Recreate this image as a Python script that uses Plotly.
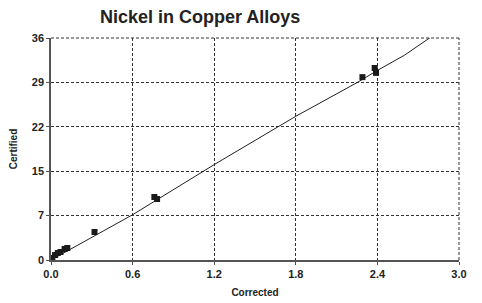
import plotly.graph_objects as go

# Data
corrected = [0.01, 0.03, 0.05, 0.07, 0.10, 0.12, 0.32, 0.76, 0.78, 2.29, 2.38, 2.39]
certified = [0.33, 0.82, 1.14, 1.31, 1.80, 1.96, 4.58, 10.3, 9.97, 29.9, 31.4, 30.6]

fit_x = [0.0, 0.6, 1.2, 1.8, 2.25, 2.4, 2.6, 2.79]
fit_y = [0.0, 7.4, 15.6, 23.5, 29.0, 31.0, 33.5, 36.4]

x_ticks = [0.0, 0.6, 1.2, 1.8, 2.4, 3.0]
y_tickvals = [0.0, 7.26, 14.52, 21.78, 29.04, 36.3]
y_ticktext = ["0", "7", "15", "22", "29", "36"]

font_family = "Liberation Sans, Arial, sans-serif"
grid_dash = "3px,2px"

fig = go.Figure()
fig.add_trace(go.Scatter(
    x=fit_x, y=fit_y, mode="lines",
    line=dict(color="#222222", width=1), hoverinfo="skip", showlegend=False,
))
fig.add_trace(go.Scatter(
    x=corrected, y=certified, mode="markers",
    marker=dict(symbol="square", size=6, color="#1a1a1a"), showlegend=False,
))

fig.update_layout(
    width=474, height=295,
    margin=dict(l=43, r=23, t=30, b=43),
    paper_bgcolor="white", plot_bgcolor="white",
    font=dict(family=font_family, color="#222222"),
    title=dict(text="Nickel in Copper Alloys", x=0.194, xanchor="left",
               y=0.95, yanchor="bottom",
               font=dict(size=18, color="#222222", weight="bold")),
    xaxis=dict(
        range=[0, 3.0], tickvals=x_ticks, tickformat=".1f", automargin=False,
        showline=True, linecolor="#555555", linewidth=1.5,
        showgrid=True, gridcolor="#333333", gridwidth=1, griddash=grid_dash,
        zeroline=False, ticks="outside", ticklen=3, tickcolor="#555555",
        tickfont=dict(size=11, family=font_family, color="#222222", weight="bold"),
        title=dict(text="Corrected", font=dict(size=10, weight="bold"), standoff=10),
    ),
    yaxis=dict(
        range=[0, 36.3], tickvals=y_tickvals, ticktext=y_ticktext, automargin=False,
        showline=True, linecolor="#555555", linewidth=1.5,
        showgrid=True, gridcolor="#333333", gridwidth=1, griddash=grid_dash,
        zeroline=False, ticks="outside", ticklen=3, tickcolor="#555555",
        tickfont=dict(size=11, family=font_family, color="#222222", weight="bold"),
        title=dict(text="Certified", font=dict(size=10, weight="bold"), standoff=12),
    ),
)

# dashed top and right frame lines
fig.add_shape(type="line", xref="paper", yref="paper", x0=0, x1=1, y0=1, y1=1,
              line=dict(color="#333333", width=1, dash=grid_dash))
fig.add_shape(type="line", xref="paper", yref="paper", x0=1, x1=1, y0=0, y1=1,
              line=dict(color="#333333", width=1, dash=grid_dash))

fig.write_html("out.html")
